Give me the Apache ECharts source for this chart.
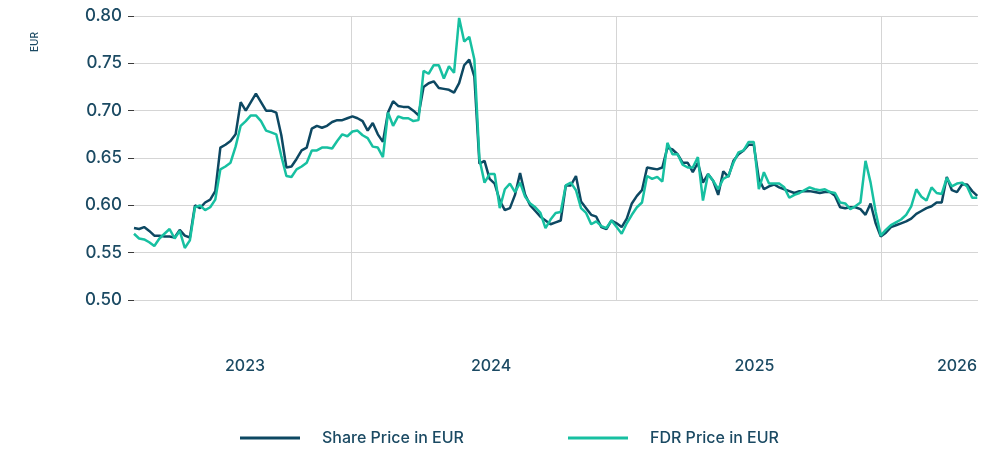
<!DOCTYPE html>
<html>
<head>
<meta charset="utf-8">
<title>Share Price / FDR Price</title>
<script src="https://cdn.jsdelivr.net/npm/echarts@6/dist/echarts.min.js"></script>
<style>html,body{margin:0;padding:0;background:#fff;}</style>
</head>
<body>
<div id="main" style="width:1000px;height:453px;"></div>
<script>
// weekly closing prices, first week starting 8 March 2023
var firstWeek = [2023, 2, 8];
var sharePrice = [
  0.576, 0.575, 0.577, 0.573, 0.568, 0.568, 0.567, 0.567, 0.566, 0.574,
  0.568, 0.566, 0.600, 0.597, 0.603, 0.606, 0.615, 0.661, 0.664, 0.668,
  0.675, 0.709, 0.700, 0.709, 0.718, 0.709, 0.700, 0.700, 0.698, 0.674,
  0.640, 0.641, 0.649, 0.658, 0.661, 0.681, 0.684, 0.682, 0.684, 0.688,
  0.690, 0.690, 0.692, 0.694, 0.692, 0.689, 0.679, 0.687, 0.675, 0.667,
  0.698, 0.710, 0.705, 0.704, 0.704, 0.700, 0.695, 0.725, 0.729, 0.731,
  0.724, 0.723, 0.722, 0.719, 0.729, 0.748, 0.754, 0.736, 0.644, 0.647,
  0.628, 0.623, 0.605, 0.595, 0.597, 0.611, 0.634, 0.611, 0.600, 0.594,
  0.588, 0.584, 0.580, 0.582, 0.584, 0.621, 0.621, 0.631, 0.604, 0.597,
  0.590, 0.588, 0.577, 0.575, 0.584, 0.581, 0.577, 0.586, 0.602, 0.610,
  0.616, 0.640, 0.639, 0.638, 0.640, 0.661, 0.659, 0.654, 0.645, 0.645,
  0.635, 0.645, 0.624, 0.633, 0.626, 0.611, 0.636, 0.630, 0.647, 0.654,
  0.658, 0.664, 0.664, 0.628, 0.617, 0.620, 0.622, 0.619, 0.617, 0.615,
  0.613, 0.615, 0.615, 0.615, 0.614, 0.613, 0.614, 0.614, 0.610, 0.598,
  0.597, 0.598, 0.598, 0.596, 0.590, 0.602, 0.581, 0.567, 0.571, 0.577,
  0.579, 0.581, 0.583, 0.586, 0.591, 0.594, 0.597, 0.599, 0.603, 0.603,
  0.630, 0.616, 0.614, 0.622, 0.622, 0.615, 0.610
];
var fdrPrice = [
  0.570, 0.565, 0.564, 0.561, 0.557, 0.565, 0.570, 0.575, 0.565, 0.573,
  0.555, 0.563, 0.598, 0.600, 0.595, 0.598, 0.606, 0.638, 0.641, 0.645,
  0.662, 0.684, 0.689, 0.695, 0.695, 0.689, 0.679, 0.677, 0.675, 0.652,
  0.631, 0.630, 0.638, 0.641, 0.645, 0.658, 0.658, 0.661, 0.661, 0.660,
  0.668, 0.675, 0.673, 0.678, 0.679, 0.674, 0.671, 0.662, 0.661, 0.651,
  0.698, 0.684, 0.694, 0.692, 0.692, 0.689, 0.690, 0.742, 0.739, 0.748,
  0.748, 0.734, 0.747, 0.740, 0.798, 0.773, 0.778, 0.754, 0.649, 0.624,
  0.633, 0.633, 0.597, 0.617, 0.623, 0.614, 0.624, 0.609, 0.602, 0.598,
  0.592, 0.576, 0.585, 0.592, 0.593, 0.621, 0.624, 0.616, 0.597, 0.592,
  0.580, 0.583, 0.578, 0.576, 0.584, 0.577, 0.570, 0.581, 0.590, 0.598,
  0.603, 0.631, 0.628, 0.630, 0.625, 0.666, 0.654, 0.654, 0.643, 0.640,
  0.640, 0.651, 0.605, 0.633, 0.626, 0.617, 0.628, 0.631, 0.645, 0.656,
  0.658, 0.667, 0.667, 0.617, 0.635, 0.623, 0.623, 0.623, 0.619, 0.608,
  0.611, 0.613, 0.616, 0.619, 0.617, 0.616, 0.617, 0.614, 0.613, 0.603,
  0.602, 0.596, 0.599, 0.603, 0.647, 0.624, 0.593, 0.568, 0.574, 0.579,
  0.582, 0.585, 0.590, 0.599, 0.617, 0.609, 0.605, 0.619, 0.613, 0.612,
  0.629, 0.620, 0.623, 0.624, 0.620, 0.608, 0.608
];
// vertical grid lines at the turn of each year, year labels in between
var yearLines = ['2024-01-01', '2025-01-01', '2026-01-01'];
var yearLabels = ['2023-08-08', '2024-07-12', '2025-07-10', '2026-04-15'];

var navy = '#0d4862';
var teal = '#17c0a1';
var textColor = '#1b4a63';
var font = 'Inter';

function toTime(s) {
    var p = s.split('-');
    return new Date(+p[0], +p[1] - 1, +p[2]).getTime();
}

var weeks = [];
for (var i = 0; i < sharePrice.length; i++) {
    weeks.push(new Date(firstWeek[0], firstWeek[1], firstWeek[2] + i * 7).getTime());
}
function pairs(values) {
    return values.map(function (v, i) { return [weeks[i], v]; });
}

var myChart = echarts.init(document.getElementById('main'));
var option = {
    animation: false,
    grid: { left: 134, right: 22, top: 16, bottom: 153 },
    legend: [{
        data: ['Share Price in EUR'], left: 235, top: 425,
        icon: 'rect', itemWidth: 60, itemHeight: 3,
        textStyle: { color: textColor, fontSize: 16, fontFamily: font, fontWeight: 500, padding: [0, 0, 0, 17] }
    }, {
        data: ['FDR Price in EUR'], left: 563, top: 425,
        icon: 'rect', itemWidth: 60, itemHeight: 3,
        textStyle: { color: textColor, fontSize: 16, fontFamily: font, fontWeight: 500, padding: [0, 0, 0, 17] }
    }],
    graphic: [{
        type: 'text', x: 35, y: 42, rotation: Math.PI / 2,
        style: { text: 'EUR', fill: textColor, font: '500 10px Inter', align: 'center', verticalAlign: 'middle' }
    }],
    xAxis: {
        type: 'value',
        min: toTime('2023-03-08'),
        max: toTime('2026-05-14'),
        axisLine: { show: false },
        axisTick: { show: false, customValues: yearLines.map(toTime) },
        splitLine: { show: true, lineStyle: { color: '#d5d5d5', width: 1 } },
        axisLabel: {
            customValues: yearLabels.map(toTime),
            formatter: function (v) { return String(new Date(v).getFullYear()); },
            margin: 58, fontSize: 16, fontFamily: font, fontWeight: 500, color: textColor
        }
    },
    yAxis: {
        type: 'value',
        min: 0.5, max: 0.8, interval: 0.05,
        axisLine: { show: false },
        axisTick: { show: true, length: 6, lineStyle: { color: '#3a3a3a' } },
        splitLine: { lineStyle: { color: '#d5d5d5', width: 1 } },
        axisLabel: {
            formatter: function (v) { return v.toFixed(2); },
            margin: 12, fontSize: 17, fontFamily: font, fontWeight: 500, color: textColor
        }
    },
    series: [{
        name: 'Share Price in EUR',
        type: 'line',
        showSymbol: false, symbol: 'none',
        color: navy,
        lineStyle: { color: navy, width: 2.5 },
        data: pairs(sharePrice)
    }, {
        name: 'FDR Price in EUR',
        type: 'line',
        showSymbol: false, symbol: 'none',
        color: teal,
        lineStyle: { color: teal, width: 2.5 },
        data: pairs(fdrPrice)
    }]
};
myChart.setOption(option);
</script>
</body>
</html>
